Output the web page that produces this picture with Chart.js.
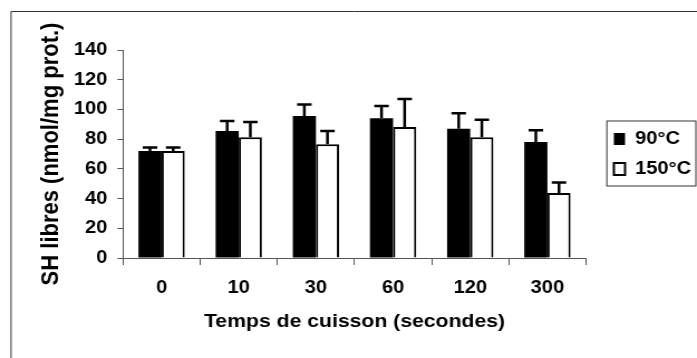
<!doctype html>
<html>
<head>
<meta charset="UTF-8">
<title>SH libres</title>
<script src="https://cdn.jsdelivr.net/npm/chart.js@4.4.0/dist/chart.umd.min.js"></script>
<style>
body { margin: 0; background: #fff; overflow: hidden; }
</style>
</head>
<body>
<!-- the original picture is stretched sideways, so the canvas is drawn narrower and widened by css -->
<canvas id="myChart" width="625" height="358" style="width:697px;height:358px"></canvas>

<script>
var temps = ['0', '10', '30', '60', '120', '300'];
var seriesNames = ['90°C', '150°C'];
var sh90 = [72, 85.5, 95.5, 94, 87, 78];
var err90 = [2.3, 6.7, 7.8, 8.3, 10.4, 8];
var sh150 = [72, 81.3, 76.5, 88.2, 81.2, 43.7];
var err150 = [2.3, 10.2, 9, 18.8, 11.8, 7.2];
var yMin = 0, yMax = 140, yStep = 20;

Chart.defaults.font.family = "'Liberation Sans', Arial, sans-serif";
Chart.defaults.font.weight = 'bold';
Chart.defaults.color = '#000';

// frame round the whole picture (only top and left edges show)
var frame = {
    id: 'frame',
    beforeDraw: function(chart) {
        var ctx = chart.ctx;
        ctx.save();
        ctx.strokeStyle = '#333';
        ctx.lineWidth = 1;
        ctx.beginPath();
        ctx.moveTo(9.9, chart.height);
        ctx.lineTo(9.9, 11.5);
        ctx.lineTo(chart.width, 11.5);
        ctx.stroke();
        ctx.restore();
    }
};

// one sided error bars on top of each bar
var errorBars = {
    id: 'errorBars',
    afterDatasetsDraw: function(chart) {
        var ctx = chart.ctx;
        var y = chart.scales.y;
        var errs = [err90, err150];
        ctx.save();
        ctx.strokeStyle = '#000';
        ctx.lineWidth = 2.5;
        chart.data.datasets.forEach(function(ds, i) {
            var meta = chart.getDatasetMeta(i);
            meta.data.forEach(function(bar, j) {
                var top = y.getPixelForValue(ds.data[j]);
                var end = y.getPixelForValue(ds.data[j] + errs[i][j]);
                ctx.beginPath();
                ctx.moveTo(bar.x, top);
                ctx.lineTo(bar.x, end);
                ctx.moveTo(bar.x - 6.5, end);
                ctx.lineTo(bar.x + 6.5, end);
                ctx.stroke();
            });
        });
        ctx.restore();
    }
};

// move the legend a bit away from the plot and put a box round it
var legendBox = {
    id: 'legendBox',
    afterLayout: function(chart) {
        var lg = chart.legend;
        var shift = chart.chartArea.right + 13 - lg.left;
        lg.left += shift;
        lg.right += shift;
    },
    afterDraw: function(chart) {
        var hb = chart.legend.legendHitBoxes;
        if (!hb || !hb.length) return;
        var ctx = chart.ctx;
        var left = hb[0].left - 6.3;
        var top = hb[0].top - 9;
        var bottom = hb[hb.length - 1].top + hb[hb.length - 1].height + 8;
        ctx.save();
        ctx.strokeStyle = '#333';
        ctx.lineWidth = 1;
        ctx.strokeRect(left, top, chart.width - 1 - left, bottom - top);
        ctx.restore();
    }
};

var ctx = document.getElementById('myChart').getContext('2d');
var myChart = new Chart(ctx, {
    type: 'bar',
    data: {
        labels: temps,
        datasets: [{
            label: seriesNames[0],
            data: sh90,
            backgroundColor: '#000',
            borderColor: '#000',
            borderWidth: 0
        }, {
            label: seriesNames[1],
            data: sh150,
            backgroundColor: '#fff',
            borderColor: '#000',
            borderWidth: 2
        }]
    },
    options: {
        responsive: false,
        animation: false,
        categoryPercentage: 0.6,
        barPercentage: 1,
        layout: { padding: { left: 33, right: 8.3, top: 50, bottom: 25 } },
        plugins: {
            tooltip: { enabled: false },
            legend: {
                position: 'right',
                fullSize: false,
                align: 'center',
                labels: {
                    boxWidth: 10,
                    boxHeight: 12,
                    padding: 12,
                    color: '#000',
                    font: { size: 18, weight: 'bold' }
                }
            }
        },
        scales: {
            x: {
                ticks: { color: '#000', font: { size: 18, weight: 'bold' }, padding: 12 },
                grid: { drawOnChartArea: false, tickLength: 7, color: '#555' },
                border: { color: '#555', width: 1 },
                title: {
                    display: true,
                    text: 'Temps de cuisson (secondes)',
                    color: '#000',
                    font: { size: 19, weight: 'bold' },
                    padding: 0
                },
                afterFit: function(s) { s.height = 75; }
            },
            y: {
                min: yMin,
                max: yMax,
                ticks: { stepSize: yStep, color: '#000', font: { size: 18, weight: 'bold' }, padding: 9 },
                grid: { drawOnChartArea: false, tickLength: 5, color: '#555' },
                border: { color: '#555', width: 1 },
                title: {
                    display: true,
                    text: 'SH libres (nmol/mg prot.)',
                    color: '#000',
                    font: { size: 22, weight: 'bold' },
                    padding: 0
                },
                afterFit: function(s) { s.width = 77.3; }
            }
        }
    },
    plugins: [frame, errorBars, legendBox]
});
</script>
</body>
</html>
